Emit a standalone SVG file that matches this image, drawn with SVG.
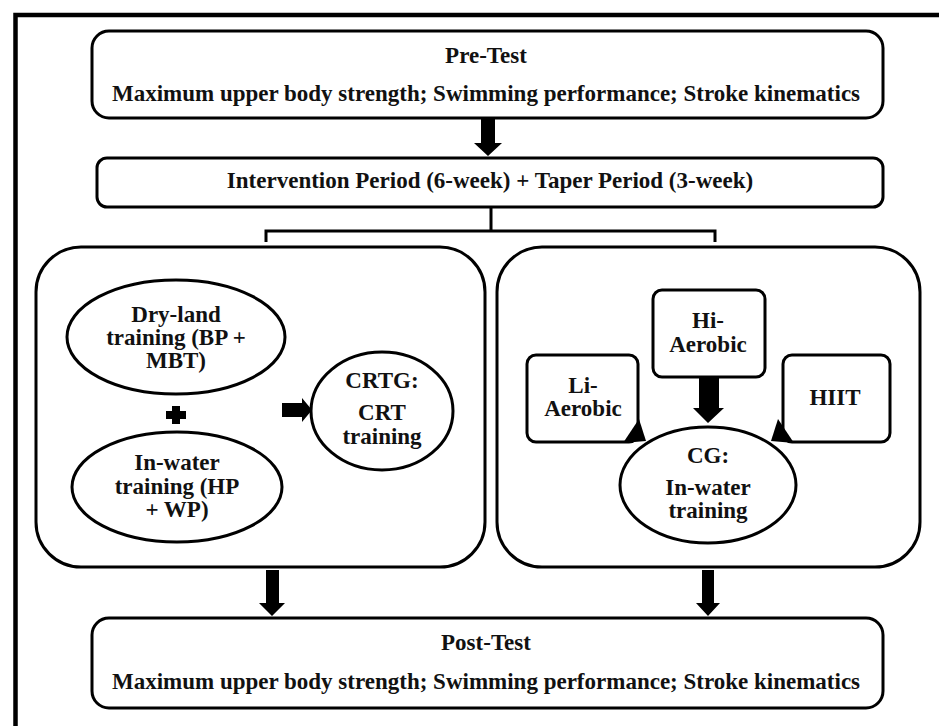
<svg xmlns="http://www.w3.org/2000/svg" width="939" height="726" viewBox="0 0 939 726">
<style>
.box{fill:#fff;stroke:#000;stroke-width:3}
.ln{fill:none;stroke:#000;stroke-width:3}
text{font-family:"Liberation Serif","DejaVu Serif",serif;font-weight:bold;fill:#111;text-anchor:middle}
.t{font-size:23px}
.s{font-size:23px}
.blk{fill:#000;stroke:none}
</style>
<rect width="939" height="726" fill="#fff"/>
<path d="M15.5 740 V15 H960" fill="none" stroke="#000" stroke-width="4.5"/>
<g id="pretest">
<rect class="box" x="92" y="31" width="791" height="87" rx="17"/>
<text class="t" x="486" y="63">Pre-Test</text>
<text class="t" x="486" y="101">Maximum upper body strength; Swimming performance; Stroke kinematics</text>
</g>
<g id="intervention">
<rect class="box" x="97" y="158" width="786" height="49" rx="10"/>
<text class="t" x="490" y="188">Intervention Period (6-week) + Taper Period (3-week)</text>
</g>
<g id="left-panel">
<rect class="box" x="36" y="247" width="449" height="320" rx="45"/>
</g>
<g id="right-panel">
<rect class="box" x="497" y="247" width="423" height="320" rx="45"/>
</g>
<g id="dryland">
<ellipse class="box" cx="176" cy="337" rx="109" ry="57"/>
<text class="s" x="176" y="322">Dry-land</text>
<text class="s" x="176" y="345">training (BP +</text>
<text class="s" x="176" y="368">MBT)</text>
</g>
<g id="plus">
<path class="blk" d="M172 406 H180 V411 H186 V419 H180 V424 H172 V419 H166 V411 H172 Z"/>
</g>
<g id="inwater">
<ellipse class="box" cx="177" cy="487" rx="105" ry="55"/>
<text class="s" x="177" y="470">In-water</text>
<text class="s" x="177" y="494">training (HP</text>
<text class="s" x="177" y="517">+ WP)</text>
</g>
<g id="crtg">
<ellipse class="box" cx="382" cy="411" rx="71" ry="59"/>
<text class="s" x="382" y="388">CRTG:</text>
<text class="s" x="382" y="420">CRT</text>
<text class="s" x="382" y="444">training</text>
</g>
<g id="hi-aerobic">
<rect class="box" x="653" y="290" width="112" height="87" rx="9"/>
<text class="s" x="708" y="328">Hi-</text>
<text class="s" x="708" y="352">Aerobic</text>
</g>
<g id="li-aerobic">
<rect class="box" x="527" y="355" width="111" height="87" rx="9"/>
<text class="s" x="583" y="393">Li-</text>
<text class="s" x="583" y="416">Aerobic</text>
</g>
<g id="hiit">
<rect class="box" x="783" y="355" width="107" height="87" rx="9"/>
<text class="s" x="835" y="405">HIIT</text>
</g>
<g id="cg">
<ellipse class="box" cx="708" cy="485" rx="88" ry="58"/>
<text class="s" x="708" y="463">CG:</text>
<text class="s" x="708" y="495">In-water</text>
<text class="s" x="708" y="518">training</text>
</g>
<g id="posttest">
<rect class="box" x="92" y="618" width="791" height="90" rx="17"/>
<text class="t" x="486" y="650">Post-Test</text>
<text class="t" x="486" y="689">Maximum upper body strength; Swimming performance; Stroke kinematics</text>
</g>
<g id="connectors">
<polygon class="blk" points="481,119 495,119 495,143 502,143 488,156 474,143 481,143"/>
<path class="ln" d="M491 207 V231 M266 242 V231 H715 V242"/>
<polygon class="blk" points="282,403 302,403 302,398 312,410 302,422 302,417 282,417"/>
<polygon class="blk" points="699,377 719,377 719,408 724,408 708,423 693,408 699,408"/>
<polygon class="blk" points="639,419 646,441 623,443"/>
<polygon class="blk" points="778,419 771,441 794,443"/>
<polygon class="blk" points="266,570 279,570 279,603 285,603 272,616 259,603 266,603"/>
<polygon class="blk" points="702,570 714,570 714,603 720,603 708,616 696,603 702,603"/>
</g>
</svg>
